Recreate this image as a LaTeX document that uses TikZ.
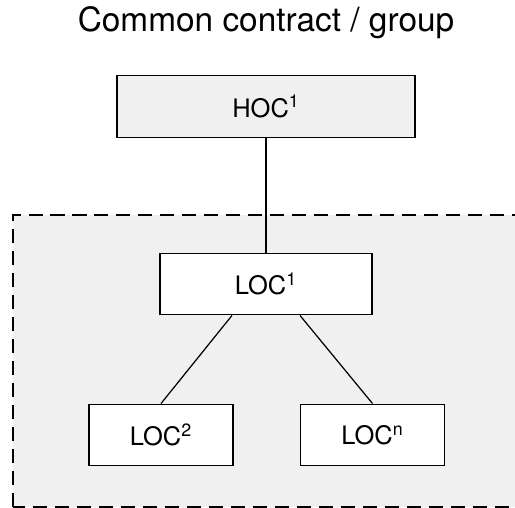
\documentclass[tikz,border=0pt]{standalone}
\usepackage{fontspec}
\setmainfont{TeX Gyre Heros}
\usetikzlibrary{calc}
\begin{document}
\begin{tikzpicture}[
  box/.style={draw,line width=0.8pt,minimum height=1.23cm,font=\fontsize{14.5}{17}\selectfont},
  link/.style={line width=0.7pt}]
\clip (0,0) rectangle (10.3,10.16);
\draw[fill=black!6,dash pattern=on 8pt off 4.5pt,line width=1.1pt] (0.26,0.02) rectangle (10.8,5.86);
\node[anchor=base,font=\fontsize{19}{23}\selectfont] (title) at (5.32,9.52) {Common contract / group};
\node[box,fill=black!6,minimum width=5.96cm] (hoc) at (5.32,8.03) {HOC\textsuperscript{1}};
\node[box,fill=white,minimum width=4.24cm] (loc1) at (5.32,4.48) {LOC\textsuperscript{1}};
\node[box,fill=white,minimum width=2.88cm] (loc2) at (3.22,1.46) {LOC\textsuperscript{2}};
\node[box,fill=white,minimum width=2.88cm] (locn) at (7.45,1.46) {LOC\textsuperscript{n}};
\draw[link] (hoc) -- (loc1);
\draw[link] ($(loc1.south)+(-0.68,0)$) -- (loc2.north);
\draw[link] ($(loc1.south)+(0.68,0)$) -- (locn.north);
\end{tikzpicture}
\end{document}
